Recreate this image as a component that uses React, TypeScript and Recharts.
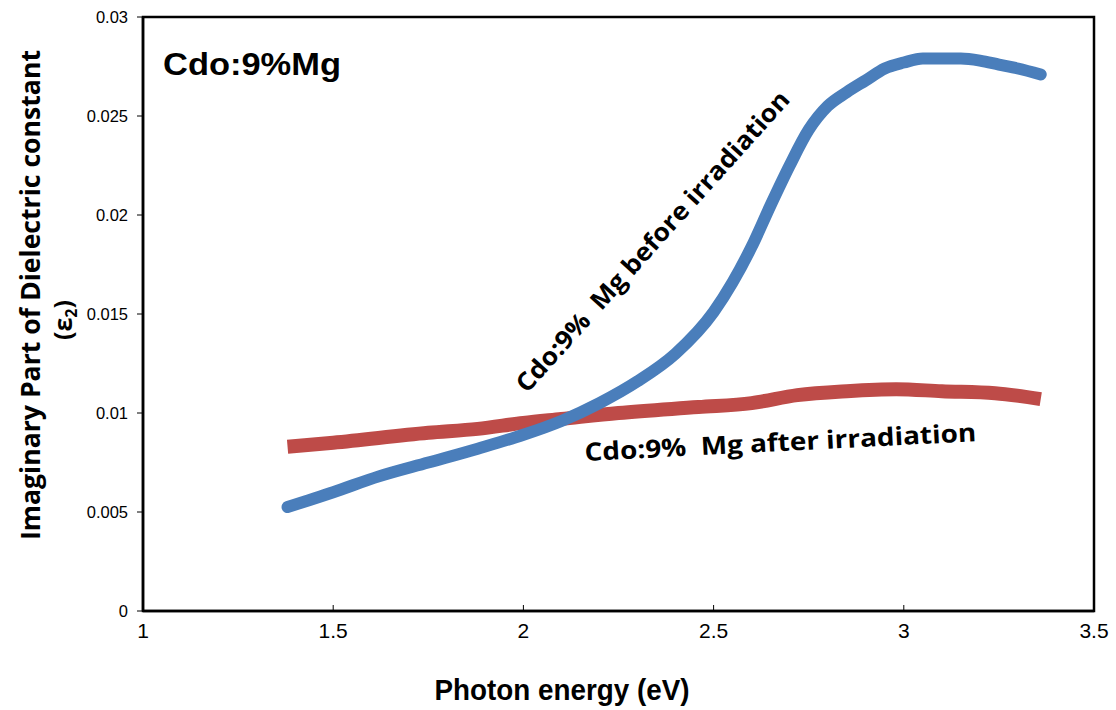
import React from 'react';
import {
  ComposedChart,
  Line,
  XAxis,
  YAxis,
  ReferenceArea,
} from 'recharts';

// Tick labels
const X_TICKS = [1, 1.5, 2, 2.5, 3, 3.5];
const Y_TICKS = [0, 0.005, 0.01, 0.015, 0.02, 0.025, 0.03];

// Cdo:9% Mg before irradiation
const BEFORE_X = [1.38, 1.5, 1.62, 1.75, 1.88, 2.0, 2.1, 2.2, 2.3, 2.4, 2.5, 2.55, 2.6, 2.65, 2.7, 2.75, 2.8, 2.85, 2.9, 2.95, 3.0, 3.05, 3.1, 3.15, 3.2, 3.25, 3.3, 3.36];
const BEFORE_Y = [0.00525, 0.006, 0.0068, 0.0075, 0.0082, 0.0089, 0.0096, 0.0105, 0.0116, 0.013, 0.0151, 0.0166, 0.0184, 0.0205, 0.0225, 0.0243, 0.0255, 0.0262, 0.0268, 0.0274, 0.0277, 0.0279, 0.0279, 0.0279, 0.0278, 0.0276, 0.0274, 0.0271];

// Cdo:9% Mg after irradiation
const AFTER_X = [1.38, 1.5, 1.75, 1.88, 2.0, 2.1, 2.25, 2.46, 2.6, 2.72, 2.85, 2.98, 3.1, 3.24, 3.36];
const AFTER_Y = [0.0083, 0.0085, 0.009, 0.0092, 0.0095, 0.0097, 0.01, 0.0103, 0.0105, 0.0109, 0.0111, 0.0112, 0.0111, 0.011, 0.0107];

const beforeData = BEFORE_X.map((x, i) => ({ x, y: BEFORE_Y[i] }));
const afterData = AFTER_X.map((x, i) => ({ x, y: AFTER_Y[i] }));

const BLUE = '#4A7EBB';
const RED = '#BE4B48';
const ANNOT_FONT = '"Open Sans", "DejaVu Sans", sans-serif';
const ARIAL = '"Liberation Sans", Arial, sans-serif';

const App: React.FC = () => {
  return (
    <div style={{ position: 'absolute', left: 0, top: 0, width: 1116, height: 710, background: '#fff' }}>
      <ComposedChart
        width={1116}
        height={710}
        margin={{ top: 17, right: 22, bottom: 59, left: 63 }}
      >
        <XAxis
          type="number"
          dataKey="x"
          domain={[1, 3.5]}
          ticks={X_TICKS}
          allowDataOverflow
          height={40}
          axisLine={{ stroke: '#000', strokeWidth: 2.5 }}
          tickLine={{ stroke: '#000', strokeWidth: 1 }}
          tickSize={-6}
          tickMargin={18}
          tick={{ fill: '#000', fontSize: 21, fontFamily: ARIAL, style: { fontStretch: 'condensed' } }}
        />
        <YAxis
          type="number"
          domain={[0, 0.03]}
          ticks={Y_TICKS}
          allowDataOverflow
          width={80}
          axisLine={{ stroke: '#000', strokeWidth: 2.5 }}
          tickLine={{ stroke: '#000', strokeWidth: 1 }}
          tickSize={6}
          tickMargin={9}
          tick={{ fill: '#000', fontSize: 16.5, fontFamily: ARIAL }}
        />
        <ReferenceArea
          x1={1}
          x2={3.5}
          y1={0}
          y2={0.03}
          fill="none"
          stroke="#000"
          strokeWidth={2.5}
          ifOverflow="visible"
        />
        <Line
          data={afterData}
          dataKey="y"
          type="monotone"
          stroke={RED}
          strokeWidth={14}
          strokeLinecap="butt"
          dot={false}
          activeDot={false}
          isAnimationActive={false}
        />
        <Line
          data={beforeData}
          dataKey="y"
          type="monotone"
          stroke={BLUE}
          strokeWidth={12}
          strokeLinecap="round"
          dot={false}
          activeDot={false}
          isAnimationActive={false}
        />

        <text
          x={163}
          y={75}
          fontSize={31}
          fontWeight="bold"
          fontFamily={ARIAL}
          textLength={178}
          lengthAdjust="spacingAndGlyphs"
          fill="#000"
        >
          Cdo:9%Mg
        </text>
        <text
          x={527}
          y={394}
          transform="rotate(-48 527 394)"
          fontSize={25}
          fontWeight="bold"
          fontFamily={ANNOT_FONT}
          textLength={395}
          lengthAdjust="spacingAndGlyphs"
          fill="#000"
          style={{ whiteSpace: 'pre' }}
        >
          {'Cdo:9%  Mg before irradiation'}
        </text>
        <text
          x={585}
          y={461}
          transform="rotate(-2.9 585 461)"
          fontSize={25}
          fontWeight="bold"
          fontFamily={ANNOT_FONT}
          textLength={392}
          lengthAdjust="spacingAndGlyphs"
          fill="#000"
          style={{ whiteSpace: 'pre' }}
        >
          {'Cdo:9%  Mg after irradiation'}
        </text>

        <text
          x={0}
          y={0}
          transform="translate(40 295) rotate(-90)"
          textAnchor="middle"
          fontSize={26}
          fontWeight="bold"
          fontFamily={ANNOT_FONT}
          textLength={490}
          lengthAdjust="spacingAndGlyphs"
          fill="#000"
        >
          Imaginary Part of Dielectric constant
        </text>
        <text
          x={0}
          y={0}
          transform="translate(72 320) rotate(-90)"
          textAnchor="middle"
          fontSize={25}
          fontWeight="bold"
          fontFamily={ANNOT_FONT}
          fill="#000"
        >
          (ε
          <tspan fontSize={16} dy={5}>2</tspan>
          <tspan dy={-5}>)</tspan>
        </text>
        <text
          x={562}
          y={700}
          textAnchor="middle"
          fontSize={30}
          fontWeight="bold"
          fontFamily={ARIAL}
          textLength={255}
          lengthAdjust="spacingAndGlyphs"
          fill="#000"
        >
          Photon energy (eV)
        </text>
      </ComposedChart>
    </div>
  );
};

export default App;
